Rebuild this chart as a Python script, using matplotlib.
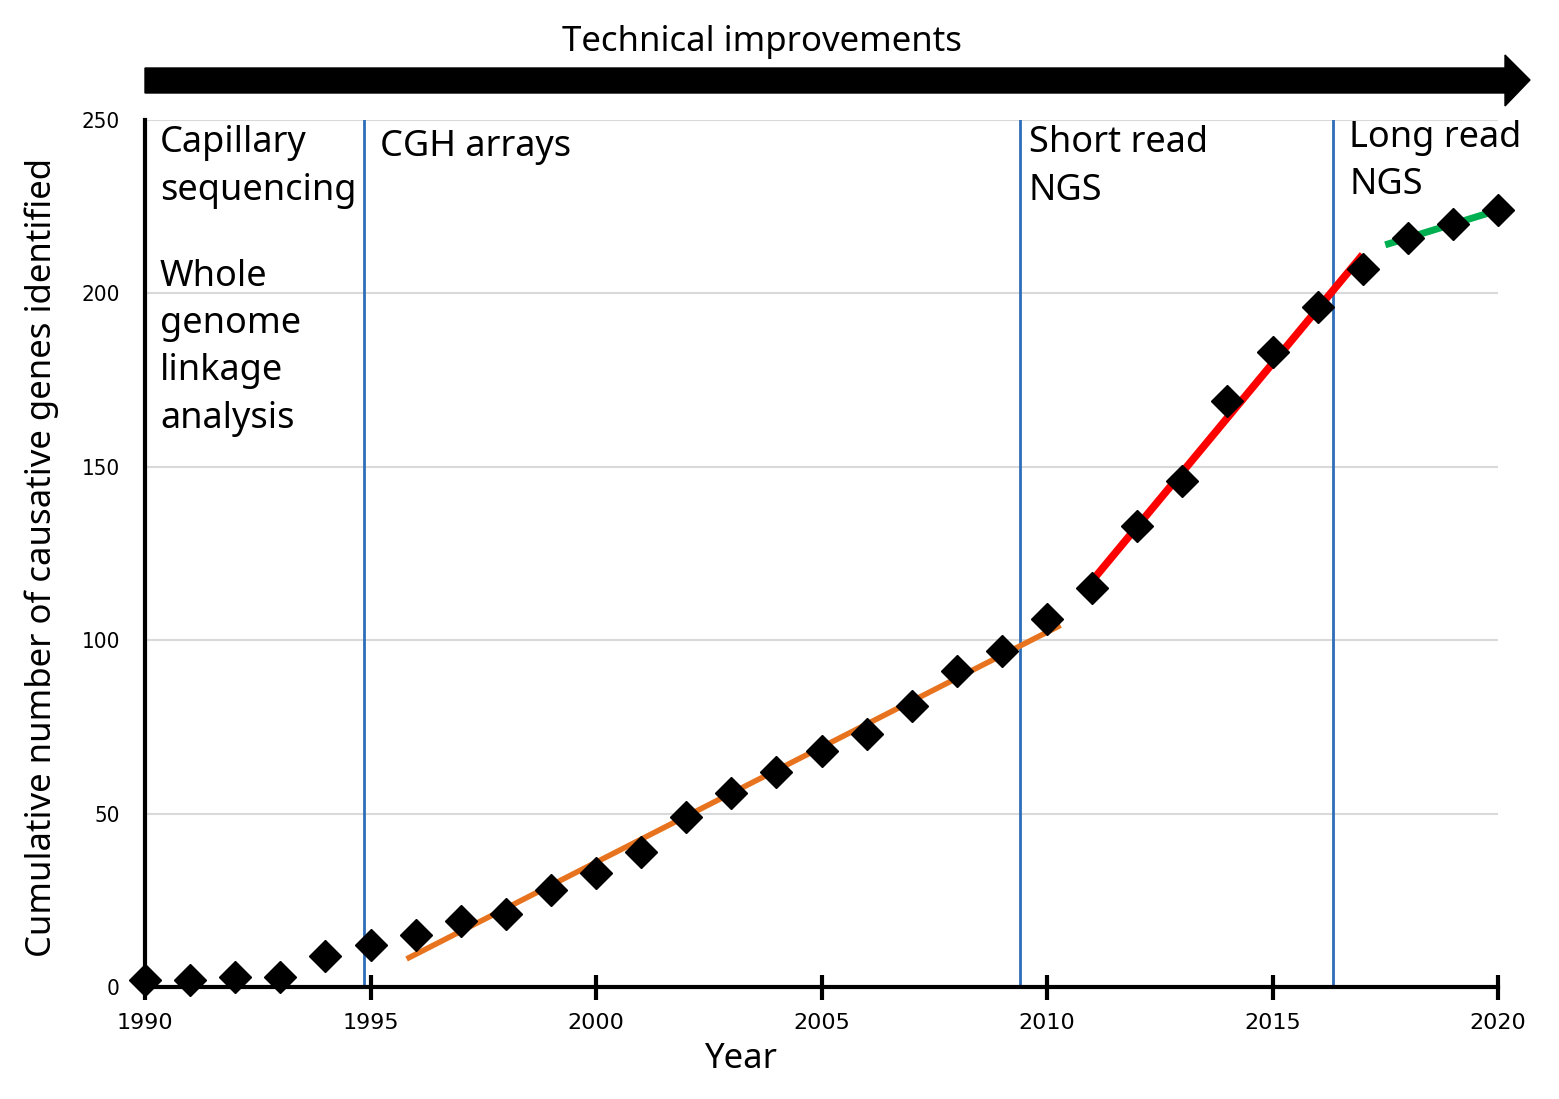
import matplotlib
matplotlib.use('Agg')
import matplotlib.pyplot as plt
import numpy as np
from matplotlib.patches import Polygon

plt.rcParams['font.family'] = ['Noto Sans', 'DejaVu Sans']

# Cumulative number of causative genes by year
years = np.arange(1990, 2021)
genes = [2, 2, 3, 3, 9, 12, 15, 19, 21, 28, 33, 39, 49, 56, 62, 68, 73, 81,
         91, 97, 106, 115, 133, 146, 169, 183, 196, 207, 216, 220, 224]

# technology eras (boundaries)
era_bounds = [1994.85, 2009.4, 2016.35]

# trend segments: (fit years, drawn x-range, colour, width)
trend_fits = [((1996, 2010), (1995.8, 2010.3), '#E8731E', 4),
              ((2011, 2017), (2011.0, 2017.0), '#FF0000', 5.5),
              ((2018, 2020), (2017.5, 2020.0), '#00B050', 5)]

W, H = 1559, 1099
my_dpi = 100
fig = plt.figure(figsize=(W/my_dpi, H/my_dpi), dpi=my_dpi)
ax = fig.add_axes([145/W, 1-987/H, (1498-145)/W, (987-120)/H])

ax.set_xlim(1990, 2020)
ax.set_ylim(0, 250)

# gridlines
ax.set_yticks([0, 50, 100, 150, 200, 250])
ax.yaxis.grid(True, color='#D9D9D9', linewidth=1.5)
ax.set_axisbelow(True)

# era lines
for xb in era_bounds:
    ax.plot([xb, xb], [0, 250], color='#2E6DB8', linewidth=2, zorder=2)

# trend lines (linear fit per era)
yrs = np.array(years)
g = np.array(genes)
for (a, b), (x0, x1), col, lw in trend_fits:
    m = (yrs >= a) & (yrs <= b)
    p = np.poly1d(np.polyfit(yrs[m], g[m], 1))
    xx = np.array([x0, x1])
    ax.plot(xx, p(xx), color=col, linewidth=lw, zorder=3, solid_capstyle='butt')

ax.plot(years, genes, linestyle='none', marker='D', markersize=16,
        color='black', zorder=4, clip_on=False)

# spines and ticks
for s in ['top', 'right']:
    ax.spines[s].set_visible(False)
ax.spines['left'].set_linewidth(3)
ax.spines['bottom'].set_linewidth(3)
ax.set_xticks([1990, 1995, 2000, 2005, 2010, 2015, 2020])
ax.tick_params(axis='x', direction='inout', length=18, width=3, pad=10,
               labelsize=16)
ax.tick_params(axis='y', length=0, pad=18, labelsize=16)
for lab in ax.get_xticklabels():
    lab.set_fontfamily('DejaVu Sans')
for lab in ax.get_yticklabels():
    lab.set_fontfamily('DejaVu Sans')
    lab.set_fontstretch('condensed')

ax.set_xlabel('Year', fontsize=25, labelpad=6)
ax.xaxis.label.set_position(((741-145)/(1498-145), 0))
ax.set_ylabel('Cumulative number of causative genes identified', fontsize=25,
              va='center')
ax.yaxis.set_label_coords((42-145)/(1498-145), 0.496)

# era labels
tk = dict(fontsize=26, va='top', ha='left', linespacing=1.42)
ax.text(1990.33, 248.5, 'Capillary\nsequencing', **tk)
ax.text(1990.33, 210, 'Whole\ngenome\nlinkage\nanalysis', **tk)
ax.text(1995.2, 247.5, 'CGH arrays', **tk)
ax.text(2009.6, 248.5, 'Short read\nNGS', **tk)
ax.text(2016.7, 250, 'Long read\nNGS', **tk)

# technical improvements arrow at top
def fx(px):
    return px / W

def fy(py):
    return 1 - py / H

arrow = [(145, 68), (1505, 68), (1505, 55), (1530, 80), (1505, 106),
         (1505, 93), (145, 93)]
fig.patches.append(Polygon([(fx(a), fy(b)) for a, b in arrow], closed=True,
                           transform=fig.transFigure, color='black'))
fig.text(fx(762), fy(42), 'Technical improvements', fontsize=25,
         ha='center', va='center')

plt.savefig('out.png', dpi=my_dpi)
